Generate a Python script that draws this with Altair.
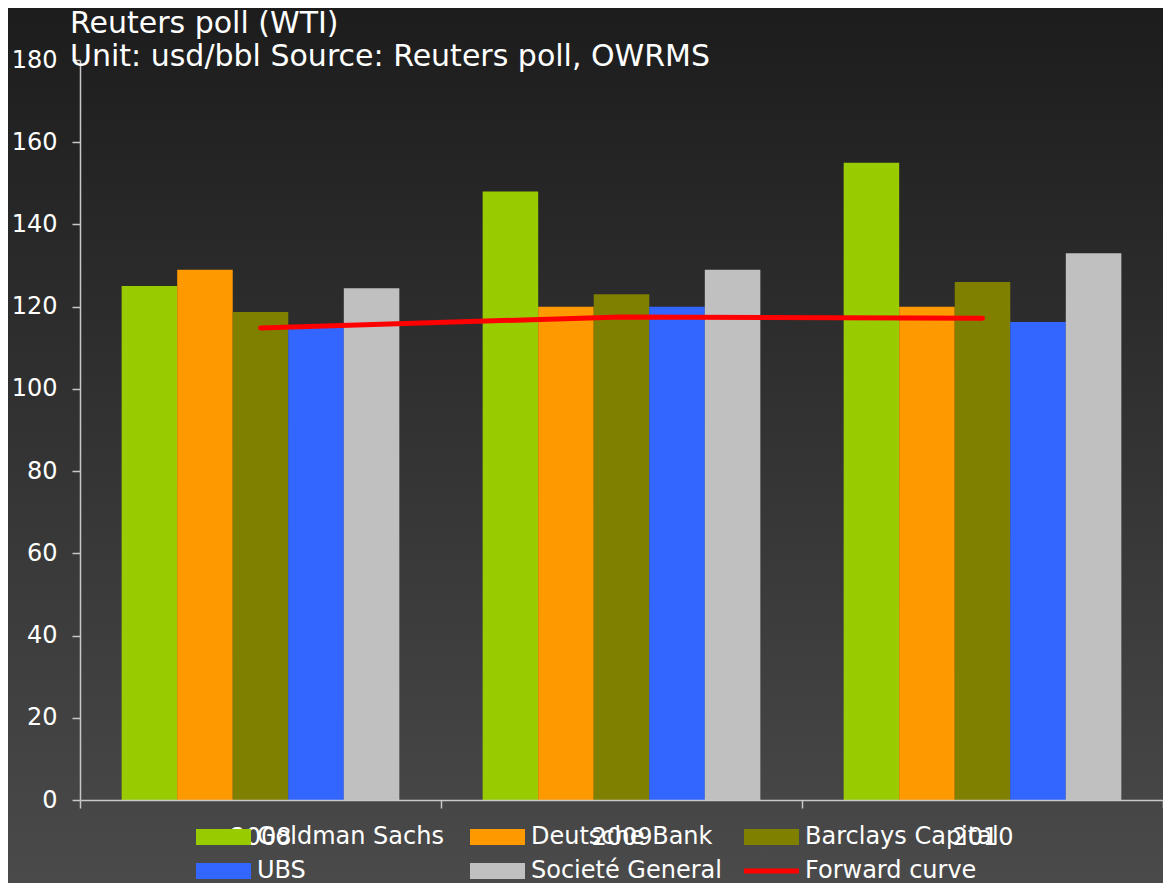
import altair as alt
import pandas as pd

# ---- data ----
years = ["2008", "2009", "2010"]
banks = ["Goldman Sachs", "Deutsche Bank", "Barclays Capital", "UBS", "Societé General"]
goldman = [125, 148, 155]
deutsche = [129, 120, 120]
barclays = [118.7, 123, 126]
ubs = [115, 120, 116.3]
socgen = [124.5, 129, 133]
forward = [114.8, 117.5, 117.2]
line_name = "Forward curve"
series_names = banks + [line_name]
colors = ["#99CC00", "#FF9900", "#808000", "#3366FF", "#C0C0C0", "#FF0000"]
y_ticks = [0, 20, 40, 60, 80, 100, 120, 140, 160, 180]
title_lines = ["Reuters poll (WTI)", "Unit: usd/bbl Source: Reuters poll, OWRMS"]

bank_values = [goldman, deutsche, barclays, ubs, socgen]
rows = []
for name, vals in zip(banks, bank_values):
    for yr, v in zip(years, vals):
        rows.append({"year": yr, "series": name, "value": v})
df_bars = pd.DataFrame(rows)
df_line = pd.DataFrame({"year": years, "value": forward, "series": [line_name] * len(years)})

FONT = "DejaVu Sans"
W, H = 1083, 740

rect_path = "M-1,-0.29H1V0.29H-1Z"
line_path = "M-1,-0.09H1V0.09H-1Z"

bg = alt.Chart(alt.Data(values=[{"k": 1}])).mark_rect(
    color=alt.LinearGradient(
        gradient="linear",
        stops=[alt.GradientStop(color="#1c1c1c", offset=0),
               alt.GradientStop(color="#4b4b4b", offset=1)],
        x1=0, x2=0, y1=0, y2=1,
    )
).encode(
    x=alt.value(-80), x2=alt.value(1100), y=alt.value(-60), y2=alt.value(840)
)

color_enc = alt.Color(
    "series:N",
    sort=series_names,
    scale=alt.Scale(domain=series_names, range=colors),
    legend=alt.Legend(
        title=None,
        orient="none",
        legendX=116,
        legendY=765,
        columns=3,
        direction="horizontal",
        padding=0,
        labelFont=FONT,
        labelFontSize=24,
        labelColor="white",
        labelOffset=6,
        labelLimit=400,
        symbolType={"expr": f"datum.value === '{line_name}' ? '{line_path}' : '{rect_path}'"},
        symbolSize=3025,
        symbolStrokeWidth=0,
        symbolOpacity=1,
        symbolOffset=0,
        clipHeight=24,
        rowPadding=10,
        columnPadding=19,
        gridAlign="all",
        zindex=2,
    ),
)

x_enc = alt.X(
    "year:N",
    title=None,
    scale=alt.Scale(paddingInner=0, paddingOuter=0),
    axis=alt.Axis(
        labelAngle=0,
        labelFont=FONT,
        labelFontSize=24,
        labelColor="white",
        labelPadding=17,
        tickSize=8,
        tickBand="extent",
        tickColor="#c8c8c8",
        tickWidth=1.5,
        domainColor="#c8c8c8",
        domainWidth=1.5,
        grid=False,
        zindex=1,
    ),
)

y_enc = alt.Y(
    "value:Q",
    title=None,
    scale=alt.Scale(domain=[0, 180], nice=False),
    axis=alt.Axis(
        values=y_ticks,
        labelFont=FONT,
        labelFontSize=24,
        labelColor="white",
        labelPadding=15,
        tickSize=8,
        tickColor="#c8c8c8",
        tickWidth=1.5,
        domainColor="#c8c8c8",
        domainWidth=1.5,
        grid=False,
        zindex=1,
    ),
)

bars = alt.Chart(df_bars).mark_bar(strokeWidth=0).encode(
    x=x_enc,
    xOffset=alt.XOffset("series:N", sort=banks, scale=alt.Scale(paddingOuter=0.75, paddingInner=0)),
    y=y_enc,
    color=color_enc,
)

line = alt.Chart(df_line).mark_line(strokeWidth=5, strokeCap="round", strokeJoin="round").encode(
    x=alt.X("year:N"),
    y=alt.Y("value:Q"),
    color=alt.Color("series:N"),
)

chart = alt.layer(bg, bars, line).properties(
    width=W,
    height=H,
    title=alt.Title(
        text=title_lines,
        anchor="start",
        frame="group",
        font=FONT,
        fontSize=30,
        fontWeight="normal",
        color="white",
        lineHeight=33.5,
        dx=-10,
        dy=72,
        offset=0,
        zindex=2,
    ),
    autosize=alt.AutoSizeParams(type="none"),
    padding={"left": 72, "top": 52, "right": 0, "bottom": 83},
).configure(
    background="#2a2a2a",
    font=FONT,
).configure_view(
    stroke=None,
)

chart.save("out.html", embed_options={"renderer": "svg", "actions": False})
